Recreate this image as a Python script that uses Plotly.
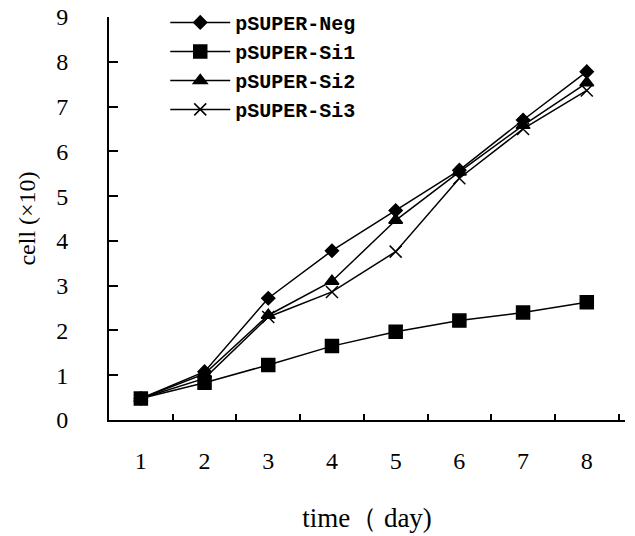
import plotly.graph_objects as go

days = ["1", "2", "3", "4", "5", "6", "7", "8"]
neg = [0.48, 1.08, 2.72, 3.78, 4.68, 5.58, 6.70, 7.78]
si1 = [0.48, 0.83, 1.23, 1.65, 1.97, 2.22, 2.40, 2.63]
si2 = [0.48, 1.03, 2.34, 3.10, 4.46, 5.54, 6.58, 7.53]
si3 = [0.48, 0.93, 2.30, 2.86, 3.76, 5.40, 6.50, 7.36]
names = ["pSUPER-Neg", "pSUPER-Si1", "pSUPER-Si2", "pSUPER-Si3"]

series = [neg, si1, si2, si3]
symbols = ["diamond", "square", "triangle-up", "x-thin"]
sizes = [10, 13, 12, 12]

fig = go.Figure()
for name, vals, sym, sz in zip(names, series, symbols, sizes):
    fig.add_trace(go.Scatter(
        x=days, y=vals, name=name, mode="lines+markers",
        line=dict(color="black", width=1.5),
        marker=dict(symbol=sym, size=sz, color="black",
                    line=dict(color="black", width=1.5)),
    ))

fig.update_layout(
    width=635, height=536,
    margin=dict(l=109, r=10, t=17, b=116, autoexpand=False),
    paper_bgcolor="white", plot_bgcolor="white",
    font=dict(family="Liberation Serif", color="black"),
    legend=dict(x=0.109, y=1.035, xanchor="left", yanchor="top",
                bgcolor="rgba(0,0,0,0)", itemwidth=60,
                font=dict(family="Liberation Mono", size=20, color="black",
                          weight="bold"),
                tracegroupgap=0),
    showlegend=True,
)
fig.update_xaxes(
    type="category", tickson="boundaries", range=[-0.5, 7.6],
    showline=True, linecolor="black", linewidth=2,
    ticks="inside", ticklen=6, tickwidth=1.5, tickcolor="black",
    showgrid=False, zeroline=False, automargin=False,
    tickfont=dict(size=24, family="Liberation Serif"),
    ticklabelstandoff=18,
    title=dict(text="time（ day)", font=dict(size=27, family="Liberation Serif"),
               standoff=35),
)
fig.update_yaxes(
    range=[0, 9], dtick=1, tick0=0,
    showline=True, linecolor="black", linewidth=2,
    ticks="inside", ticklen=9, tickwidth=1.5, tickcolor="black",
    showgrid=False, zeroline=False, automargin=False,
    tickfont=dict(size=24, family="Liberation Serif"),
    ticklabelstandoff=34,
    title=dict(text="cell (×10)", font=dict(size=24, family="Liberation Serif"),
               standoff=14),
)

fig.write_html("out.html", config={"displayModeBar": False},
               post_script="document.body.style.margin='0';")
